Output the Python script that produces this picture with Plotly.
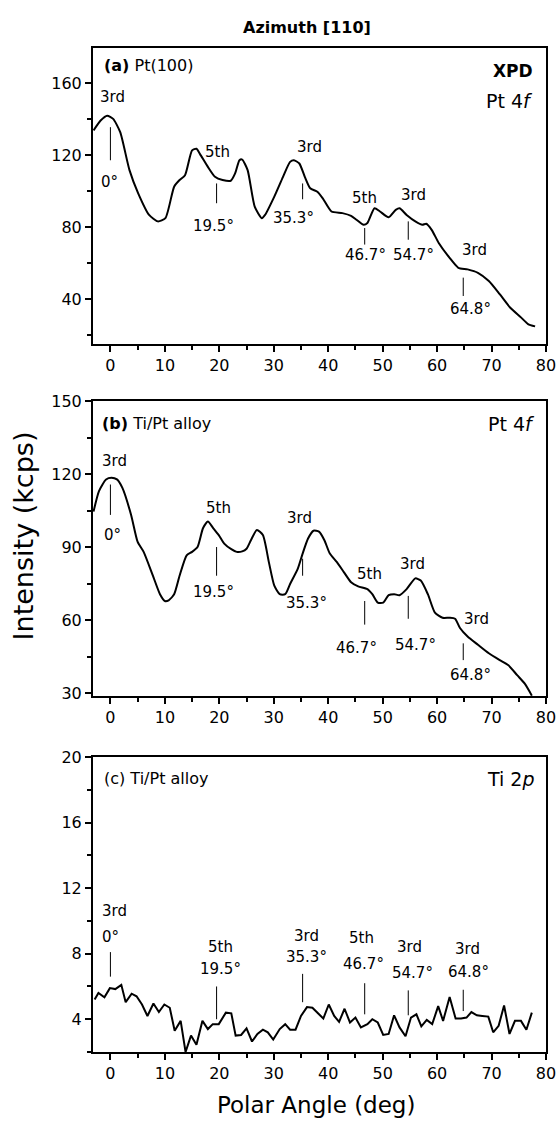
import plotly.graph_objects as go

# ---------------- data ----------------
angle_a = [-3.1,-1.8,-0.6,0.5,1.8,3.5,5.1,7.1,8.7,10.1,11.7,12.7,13.7,15.0,15.8,16.6,17.9,19.2,20.6,22.1,
           22.9,23.7,24.2,25.2,26.5,27.8,28.4,30.1,31.7,33.0,33.7,34.7,35.7,36.7,38.0,39.0,40.6,42.6,44.2,45.2,
           46.5,47.2,48.5,49.5,51.1,52.4,53.1,54.4,56.0,57.3,58.0,59.0,60.3,62.3,63.9,65.6,67.5,69.5,71.5,73.4,
           75.4,76.7,78.0]
inten_a = [133.9,139.4,142.1,140.3,132.9,111.8,98.9,86.9,83.3,85.1,102.6,106.3,109.0,122.8,123.7,120.0,113.6,108.1,106.3,105.9,
           110.0,117.3,117.7,111.8,91.5,85.1,86.9,97.1,108.1,116.4,117.3,115.5,108.1,101.7,99.8,96.1,88.8,87.9,86.4,84.2,
           81.4,82.4,90.6,88.8,85.6,89.7,90.6,86.9,83.3,81.4,82.0,78.6,71.3,63.0,57.5,56.6,54.7,50.1,42.8,35.4,
           29.9,26.2,24.9]

angle_b = [-3.1,-2.1,-0.8,0.2,1.2,2.2,3.8,5.0,6.1,7.8,9.1,10.0,10.7,11.7,12.7,14.0,15.0,16.0,17.0,17.9,
           18.9,19.9,20.9,22.2,23.2,24.2,25.0,25.8,26.9,28.0,29.1,30.1,31.1,32.1,33.0,34.4,35.3,36.3,37.3,38.3,
           39.3,40.3,41.6,42.9,44.2,45.5,47.2,48.1,49.1,50.1,51.1,52.1,53.1,54.4,56.0,57.0,58.3,59.6,61.0,62.3,
           63.3,64.2,65.6,67.5,69.5,71.5,73.1,74.7,76.1,77.4]
inten_b = [104.7,113.1,117.9,118.6,117.9,114.4,103.3,92.2,88.1,78.3,70.7,67.9,68.2,70.7,78.3,86.7,88.1,90.1,97.8,100.6,
           97.8,95.0,91.5,89.2,88.1,88.3,89.4,92.9,97.1,95.0,83.9,74.2,70.7,70.7,74.9,81.1,87.4,93.6,96.8,96.4,
           92.9,87.4,83.9,79.7,75.6,73.9,72.8,70.7,67.2,67.2,70.3,70.7,70.3,72.8,77.2,76.3,70.7,63.1,61.0,61.0,
           60.6,56.8,53.3,49.9,46.4,43.6,41.5,37.4,33.9,29.0]

angle_c = [-2.9,-2.2,-1.1,-0.1,0.9,2.0,2.8,3.9,4.8,5.8,6.8,7.9,8.9,9.9,10.9,11.8,12.9,13.8,14.8,15.8,
           16.9,17.9,18.8,19.9,21.2,22.2,23.0,24.0,25.0,26.0,27.0,28.0,28.9,29.9,31.1,32.1,33.0,34.0,35.0,36.1,
           37.1,38.1,39.1,40.1,41.1,42.0,43.0,44.0,45.0,46.0,47.2,48.1,49.1,50.1,51.1,52.1,53.1,54.2,55.2,56.2,
           57.1,58.1,59.1,60.2,61.1,62.3,63.4,64.4,65.4,66.3,67.3,68.3,69.4,70.3,71.3,72.3,73.3,74.3,75.4,76.4,77.4]
inten_c = [5.2,5.6,5.34,5.9,5.84,6.1,5.04,5.56,5.4,4.9,4.2,4.96,4.44,4.9,4.7,3.3,3.9,2.0,3.0,2.44,
           3.9,3.4,3.7,3.7,4.4,4.36,3.0,3.04,3.44,2.64,3.1,3.36,3.2,2.76,3.4,3.7,3.36,3.36,4.2,4.74,
           4.7,4.36,4.04,4.9,4.2,3.84,4.64,3.8,4.1,3.5,3.7,4.0,3.8,3.04,3.1,4.24,3.5,2.96,4.1,4.3,
           3.56,3.96,3.7,4.8,3.9,5.36,4.04,4.04,4.1,4.44,4.24,4.2,4.16,3.2,3.6,4.84,3.1,3.9,3.9,3.36,4.4]

peak_angles = [0, 19.5, 35.3, 46.7, 54.7, 64.8]
peak_orders = ["3rd", "5th", "3rd", "5th", "3rd", "3rd"]
x_ticks = [0, 10, 20, 30, 40, 50, 60, 70, 80]

# ---------------- label placement (layout only) ----------------
place = {
    "a": dict(order=[(0.4,152.3),(19.7,121.9),(36.5,124.7),(46.6,96.1),(55.7,98.0),(66.9,67.6)],
              line=[(117.3,135.7),(93.4,104.4),(95.6,104.4),(70.4,79.6),(73.1,83.3),(41.8,52.0)],
              ang=[(-0.1,105.3),(18.9,80.5),(33.7,85.1),(46.8,64.8),(55.7,64.8),(66.1,34.8)]),
    "b": dict(order=[(0.7,125.6),(19.9,106.1),(34.7,102.2),(47.5,79.0),(55.4,83.2),(67.2,60.3)],
              line=[(103.3,115.8),(78.3,90.1),(78.3,85.3),(58.2,67.9),(60.6,70.0),(43.6,50.5)],
              ang=[(0.4,95.0),(19.0,71.4),(36.0,67.2),(45.2,48.5),(56.0,49.9),(66.2,37.4)]),
    "c": dict(order=[(0.7,10.6),(20.2,8.4),(36.0,9.1),(46.2,8.97),(55.0,8.4),(65.5,8.3)],
              line=[(6.6,8.1),(4.0,6.0),(5.04,6.77),(4.3,6.2),(4.24,5.76),(4.5,5.8)],
              ang=[(0.0,9.0),(20.2,7.07),(36.0,7.77),(46.4,7.4),(55.4,6.8),(65.7,6.9)]),
}

FONT = "DejaVu Sans"
H = 1127

fig = go.Figure()
fig.add_trace(go.Scatter(x=angle_a, y=inten_a, mode="lines", xaxis="x", yaxis="y",
                         line=dict(color="black", width=2, shape="spline", smoothing=0.6)))
fig.add_trace(go.Scatter(x=angle_b, y=inten_b, mode="lines", xaxis="x2", yaxis="y2",
                         line=dict(color="black", width=2, shape="spline", smoothing=0.6)))
fig.add_trace(go.Scatter(x=angle_c, y=inten_c, mode="lines", xaxis="x3", yaxis="y3",
                         line=dict(color="black", width=2)))

def dom(top, bottom):
    return [1 - bottom / H, 1 - top / H]

minor_t = dict(ticklen=4, tickwidth=1.5, tickcolor="black", ticks="outside")
axis_common = dict(showline=True, linecolor="black", linewidth=2, mirror=True,
                   ticks="outside", ticklen=6, tickwidth=1.5, tickcolor="black",
                   showgrid=False, zeroline=False,
                   tickfont=dict(family=FONT, size=16, color="black"))

xcommon = dict(axis_common, range=[-3.2, 80], tickvals=x_ticks,
               minor=dict(minor_t, dtick=5, tick0=0))

layout = dict(
    width=557, height=H, plot_bgcolor="white", paper_bgcolor="white", showlegend=False,
    margin=dict(l=93, r=11, t=0, b=0),
    xaxis=dict(xcommon, anchor="y", domain=[0, 1]),
    xaxis2=dict(xcommon, anchor="y2", domain=[0, 1]),
    xaxis3=dict(xcommon, anchor="y3", domain=[0, 1]),
    yaxis=dict(axis_common, anchor="x", domain=dom(40, 340), range=[15, 179.5], dtick=40, tick0=0,
               minor=dict(minor_t, dtick=20, tick0=0)),
    yaxis2=dict(axis_common, anchor="x2", domain=dom(398, 697), range=[28.8, 150], dtick=30, tick0=0,
                minor=dict(minor_t, dtick=15, tick0=0)),
    yaxis3=dict(axis_common, anchor="x3", domain=dom(759, 1058), range=[2, 20], dtick=4, tick0=0,
                minor=dict(minor_t, dtick=2, tick0=0)),
)
fig.update_layout(**layout)

ann = []
shapes = []
refs = {"a": ("x", "y"), "b": ("x2", "y2"), "c": ("x3", "y3")}
for key, (xr, yr) in refs.items():
    p = place[key]
    for i, ang in enumerate(peak_angles):
        ox, oy = p["order"][i]
        ann.append(dict(x=ox, y=oy, xref=xr, yref=yr, text=peak_orders[i], showarrow=False,
                        xanchor="center", yanchor="middle",
                        font=dict(family=FONT, size=15, color="black")))
        ax_, ay_ = p["ang"][i]
        ann.append(dict(x=ax_, y=ay_, xref=xr, yref=yr, text=f"{ang}°", showarrow=False,
                        xanchor="center", yanchor="middle",
                        font=dict(family=FONT, size=15, color="black")))
        y0, y1 = p["line"][i]
        shapes.append(dict(type="line", xref=xr, yref=yr, x0=ang, x1=ang, y0=y0, y1=y1,
                           line=dict(color="black", width=1)))

def corner(x, y, xr, yr, text, size, xa):
    return dict(x=x, y=y, xref=xr, yref=yr, text=text, showarrow=False, xanchor=xa, yanchor="middle",
                font=dict(family=FONT, size=size, color="black"))

ann.append(corner(0.02, 169.8, "x domain", "y", "<b>(a)</b> Pt(100)", 16, "left"))
ann.append(corner(0.975, 167.0, "x domain", "y", "<b>XPD</b>", 17, "right"))
ann.append(corner(0.975, 150.4, "x domain", "y", "Pt 4<i>f</i>", 19, "right"))
ann.append(corner(0.015, 140.8, "x2 domain", "y2", "<b>(b)</b> Ti/Pt alloy", 16, "left"))
ann.append(corner(0.98, 140.8, "x2 domain", "y2", "Pt 4<i>f</i>", 19, "right"))
ann.append(corner(0.02, 18.7, "x3 domain", "y3", "(c) Ti/Pt alloy", 16, "left"))
ann.append(corner(0.98, 18.7, "x3 domain", "y3", "Ti 2<i>p</i>", 19, "right"))

ann.append(dict(x=(307 - 93) / 453, y=1 - 19 / H, xref="paper", yref="paper", text="<b>Azimuth [110]</b>",
                showarrow=False, xanchor="center", yanchor="middle",
                font=dict(family=FONT, size=16, color="black")))
ann.append(dict(x=(316 - 93) / 453, y=1 - 1112 / H, xref="paper", yref="paper", text="Polar Angle (deg)",
                showarrow=False, xanchor="center", yanchor="middle",
                font=dict(family=FONT, size=23, color="black")))
ann.append(dict(x=(23 - 93) / 453, y=1 - 535 / H, xref="paper", yref="paper", text="Intensity (kcps)",
                showarrow=False, textangle=-90, xanchor="center", yanchor="middle",
                font=dict(family=FONT, size=27, color="black")))

fig.update_layout(annotations=ann, shapes=shapes)
fig.write_html("out.html", config={"displayModeBar": False},
               post_script="document.body.style.margin='0';document.body.style.overflow='hidden';")
